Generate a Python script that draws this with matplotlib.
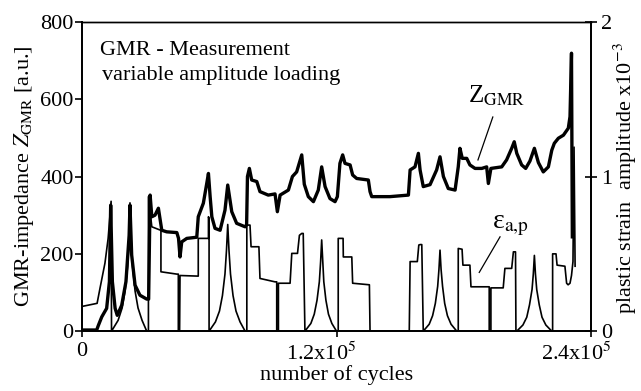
import matplotlib
matplotlib.use('Agg')
import matplotlib.pyplot as plt
import matplotlib.transforms as mtransforms
import numpy as np

plt.rcParams['font.family'] = ['Liberation Serif', 'DejaVu Serif']
plt.rcParams['mathtext.fontset'] = 'stix'

# number of cycles in units of 1e3, GMR impedance in a.u.
z_cycles = [0, 6.9, 7.7, 9.3, 11.6, 12.9, 13.5, 14.3, 15.6, 16.6, 18.7, 20.7, 22.2, 22.6,
            23.4, 25.0, 27.3, 30.5, 31.4, 32.1, 32.9, 34.4, 36.0, 37.6, 39.9, 44.7, 45.5,
            46.2, 47.0, 49.4, 54.1, 54.8, 57.2, 58.8, 59.6, 60.4, 61.2, 62.7, 65.1, 67.4,
            68.7, 70.6, 72.9, 76.9, 77.6, 78.0, 78.9, 80.0, 82.4, 83.9, 87.8, 91.0, 92.1,
            93.4, 97.3, 99.2, 101.2, 103.6, 104.8, 106.7, 109.1, 111.4, 113.0, 114.6,
            116.9, 119.3, 120.4, 121.6, 122.9, 124.0, 126.4, 127.6, 129.5, 135.0, 135.8,
            136.6, 145.2, 153.9, 154.7, 157.0, 158.6, 159.4, 160.9, 164.1, 167.2, 168.8,
            170.4, 172.7, 175.9, 177.4, 178.2, 179.3, 181.4, 182.9, 185.3, 188.5, 190.8,
            191.6, 192.8, 197.9, 200.2, 202.6, 203.8, 205.0, 207.3, 209.2, 211.2, 213.3,
            215.2, 217.5, 219.9, 221.5, 222.7, 224.6, 227.0, 229.3, 230.1, 230.8, 231.2]
z_gmr = [3, 3, 15, 37, 59, 128, 326, 128, 59, 41, 67, 128, 248, 326,
         197, 119, 93, 83, 83, 352, 296, 300, 318, 261, 257, 255, 240,
         192, 231, 240, 243, 296, 331, 382, 408, 348, 296, 266, 261, 313,
         378, 309, 279, 270, 275, 400, 421, 391, 387, 361, 352, 355, 309,
         352, 365, 400, 412, 456, 380, 348, 335, 365, 425, 374,
         343, 335, 348, 434, 456, 434, 430, 404, 395, 391, 361,
         348, 348, 352, 417, 425, 460, 417, 374, 379, 417, 451,
         400, 369, 365, 425, 473, 447, 447, 430, 421, 421, 425,
         382, 421, 425, 443, 473, 490, 460, 430, 421, 440, 473,
         436, 412, 425, 468, 486, 499, 507, 525, 555, 719, 244]

# plastic strain amplitude in units of 1e-3
e_cycles = [0, 7.1, 8.5, 10.8, 12.3, 13.2, 13.7, 13.9,
            17.0, 18.9, 20.3, 21.5, 22.2, 22.6, 23.1, 23.8, 25.0, 26.4, 28.3, 30.5,
            31.3, 31.3, 32.9, 36.8, 37.2, 37.2, 44.7, 45.4, 45.4, 46.0, 46.2, 54.1,
            54.8, 54.8, 59.6, 59.6, 59.9, 59.9,
            62.9, 64.8, 66.2, 67.4, 68.1, 68.7, 69.3, 70.0, 71.2, 72.6, 74.5, 76.9,
            77.7, 77.7, 79.2, 79.7, 83.4, 83.9, 91.0, 91.8, 91.8, 92.6, 92.6, 98.1,
            98.9, 101.6, 102.5, 103.6, 104.3, 105.1,
            107.9, 109.5, 110.8, 111.9, 112.5, 113.0, 113.5, 114.0, 115.0, 116.2,
            117.8, 120.0,
            120.8, 120.8, 123.1, 123.2, 127.2, 127.6, 135.5, 135.8, 154.3, 154.7,
            158.1, 158.8, 159.4, 160.2, 160.9,
            163.7, 165.3, 166.6, 167.7, 168.3, 168.8, 169.3, 170.0, 171.0, 172.3,
            174.0, 176.7,
            177.4, 177.4, 179.2, 179.6, 182.9, 183.4, 191.6, 192.0, 192.0, 192.8,
            192.8, 198.6, 199.4, 202.6, 203.4, 204.4, 204.6, 205.0,
            207.9, 209.7, 211.0, 212.2, 212.8, 213.3, 213.8, 214.4, 215.6, 216.9,
            218.7, 221.5,
            221.9, 221.9, 223.5, 224.0, 227.7, 228.5, 229.2, 230.1, 230.8, 231.5,
            232.0, 232.5]
strain = [0.16, 0.18, 0.28, 0.44, 0.60, 0.75, 0.84, 0.0,
          0.07, 0.15, 0.26, 0.42, 0.60, 0.83, 0.60, 0.42, 0.26, 0.15, 0.07, 0.0,
          0.0, 0.87, 0.675, 0.654, 0.654, 0.384, 0.369, 0.369, 0.0, 0.0, 0.36, 0.356,
          0.356, 0.60, 0.60, 0.74, 0.73, 0.0,
          0.06, 0.13, 0.23, 0.37, 0.52, 0.69, 0.52, 0.37, 0.23, 0.13, 0.06, 0.0,
          0.0, 0.686, 0.686, 0.546, 0.546, 0.341, 0.319, 0.319, 0.0, 0.0, 0.31, 0.31,
          0.503, 0.503, 0.62, 0.632, 0.632, 0.0,
          0.05, 0.11, 0.20, 0.32, 0.45, 0.59, 0.45, 0.32, 0.20, 0.11,
          0.05, 0.0,
          0.0, 0.60, 0.60, 0.48, 0.48, 0.31, 0.30, 0.0, 0.0, 0.45,
          0.45, 0.557, 0.56, 0.56, 0.0,
          0.045, 0.10, 0.18, 0.29, 0.40, 0.524, 0.40, 0.29, 0.18, 0.10,
          0.045, 0.0,
          0.0, 0.535, 0.53, 0.427, 0.427, 0.287, 0.287, 0.287, 0.0, 0.0,
          0.28, 0.28, 0.406, 0.406, 0.513, 0.513, 0.0, 0.0,
          0.04, 0.09, 0.17, 0.27, 0.37, 0.49, 0.37, 0.27, 0.17, 0.09,
          0.04, 0.0,
          0.0, 0.50, 0.50, 0.427, 0.42, 0.31, 0.30, 0.31, 0.36, 0.45,
          1.19, 0.42]

x_ticks = [0, 1.2e5, 2.4e5]
x_ticklabels = ['0', r'1.2x10$^{5}$', r'2.4x10$^{5}$']

fig = plt.figure(figsize=(6.41, 3.91), dpi=100)
ax = fig.add_axes([0.128, 0.153, 0.794, 0.791])
ax2 = ax.twinx()

ax.plot(np.array(z_cycles) * 1e3, z_gmr, color='black', lw=2.4, solid_joinstyle='round')
ax2.plot(np.array(e_cycles) * 1e3, strain, color='black', lw=1.2)

ax.set_xlim(0, 2.4e5)
ax.set_ylim(0, 800)
ax2.set_ylim(0, 2)

ax.set_xticks(x_ticks)
ax.set_xticklabels(x_ticklabels)
ax.set_yticks([0, 200, 400, 600, 800])
ax2.set_yticks([0, 1, 2])

ax.tick_params(axis='x', direction='out', length=4, width=1.2, labelsize=16, pad=4)
ax.tick_params(axis='y', direction='out', length=5, width=1.2, labelsize=16, pad=1)
ax2.tick_params(axis='y', direction='inout', length=8, width=1.2, labelsize=16, pad=3)

# the exponent labels sit a bit left of their ticks in the original
shift = mtransforms.ScaledTranslation(-0.15, 0, fig.dpi_scale_trans)
for lab in ax.get_xticklabels()[1:]:
    lab.set_transform(lab.get_transform() + shift)

for a in (ax, ax2):
    for s in a.spines.values():
        s.set_linewidth(1.3)
    a.spines['top'].set_linewidth(1.0)

ax.set_xlabel('number of cycles', fontsize=16, labelpad=0)
ax.set_ylabel(r'GMR-impedance $Z_{\rm GMR}$ [a.u.]', fontsize=16, labelpad=3)
fig.text(0.976, 0.545, r'plastic strain  amplitude x10$^{-3}$', rotation=90,
         fontsize=16, ha='center', va='center')

ax.text(0.035, 0.893, 'GMR - Measurement', transform=ax.transAxes, fontsize=16,
        va='baseline')
ax.text(0.039, 0.812, 'variable amplitude loading', transform=ax.transAxes, fontsize=16,
        va='baseline')

ax.text(182e3, 590, r'Z$_{\rm GMR}$', fontsize=18, va='baseline')
ax.plot([193.7e3, 186.7e3], [554, 443], color='black', lw=0.9)
ax2.text(193.5e3, 0.667, r'ε$_{\rm a{,}p}$', fontsize=20, va='baseline')
ax2.plot([197.1e3, 187.3e3], [0.61, 0.38], color='black', lw=0.9)

fig.savefig('out.png', dpi=100)
